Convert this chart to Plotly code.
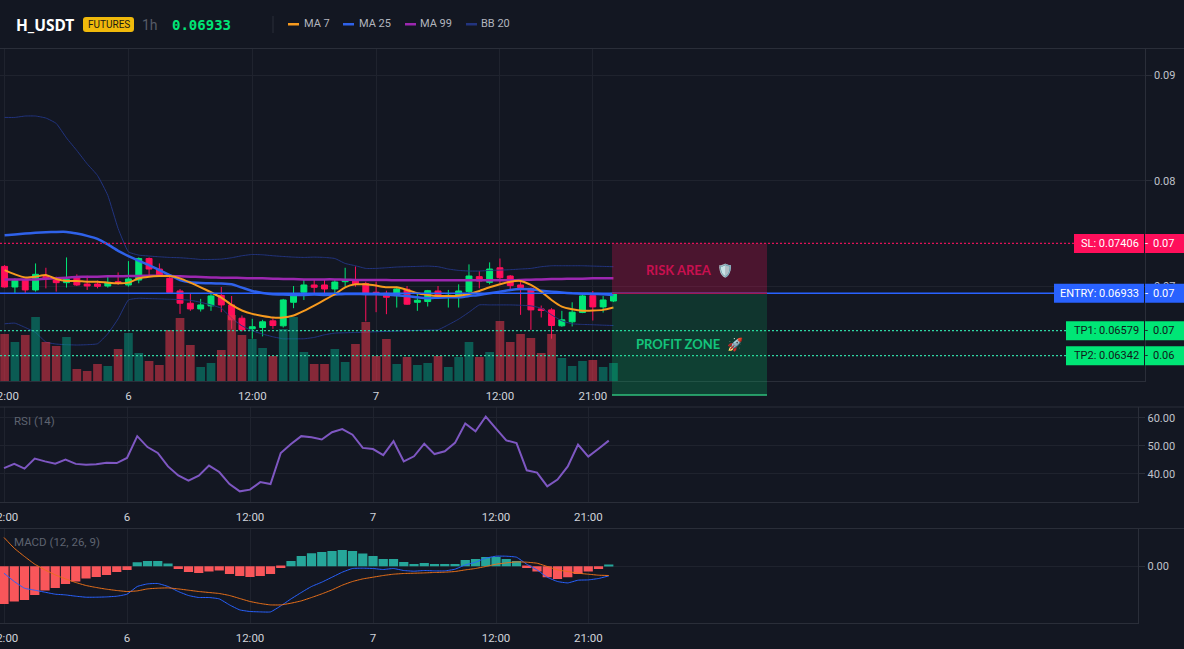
import pandas as pd
import plotly.graph_objects as go

W, H = 1184, 649
BG = "#131722"
GRID = "#1f232e"
AXIS = "#2a2e39"
TXT = "#b2b5be"
UP = "#00e676"
DOWN = "#ff0f5b"
BLUE = "#2962ff"

ENTRY = 0.06933
SL = 0.07406
TP1 = 0.06579
TP2 = 0.06342
ZONE_LOW = 0.05970

opens = [.07188,.06993,.07059,.06965,.07091,.07059,.07034,.07084,.07021,.07021,.07002,.07043,.07012,.07059,.07263,.07163,.07075,.06955,.06839,.06785,.06814,.06914,.06823,.06697,.06597,.06609,.06672,.06625,.06848,.06943,.07012,.07012,.06974,.07043,.07059,.07025,.06943,.06933,.06911,.06971,.06848,.06855,.06955,.06896,.06896,.06949,.07091,.07037,.07175,.07097,.07012,.06980,.06785,.06776,.06625,.06663,.06751,.06911,.06804,.06860]
highs = [.07201,.07075,.07075,.07216,.07175,.07091,.07273,.07113,.07100,.07053,.07091,.07131,.07238,.07273,.07273,.07216,.07106,.06974,.06927,.06880,.06933,.06993,.06908,.06723,.06691,.06682,.06697,.06880,.07002,.07059,.07059,.07059,.07059,.07175,.07188,.07043,.07043,.06958,.06996,.07002,.06933,.06965,.07002,.06965,.07018,.07207,.07144,.07226,.07263,.07106,.07059,.06987,.06817,.06792,.06767,.06848,.06927,.06955,.06908,.06940]
lows = [.06987,.06933,.06933,.06949,.06980,.06949,.06987,.07002,.06965,.06980,.06987,.07012,.06996,.07028,.07106,.07091,.06927,.06738,.06767,.06760,.06767,.06754,.06597,.06572,.06503,.06525,.06597,.06609,.06792,.06870,.06933,.06933,.06933,.06996,.06996,.06666,.06754,.06735,.06798,.06823,.06767,.06808,.06886,.06798,.06798,.06933,.06980,.07018,.07028,.06974,.06729,.06587,.06704,.06503,.06616,.06619,.06745,.06675,.06751,.06850]
closes = [.06993,.07053,.06965,.07113,.07081,.07034,.07065,.07012,.07002,.06999,.07037,.07034,.07069,.07263,.07163,.07100,.06940,.06839,.06785,.06823,.06908,.06823,.06682,.06587,.06616,.06663,.06628,.06870,.06924,.07012,.06990,.06974,.07040,.07059,.07018,.06924,.06930,.06896,.06974,.06830,.06867,.06958,.06896,.06914,.06955,.07097,.07050,.07163,.07081,.07006,.06987,.06776,.06770,.06628,.06682,.06754,.06908,.06804,.06870,.06933]
volumes = [47,39,46,64,39,35,44,12,10,17,15,32,48,28,20,16,51,63,36,14,18,31,66,46,42,33,25,52,64,29,17,17,32,19,37,59,25,42,17,24,16,18,25,14,24,39,24,29,60,39,47,43,28,47,23,15,20,21,14,18]

ma7 = [.07153,.07113,.07084,.07091,.07106,.07069,.07050,.07050,.07043,.07043,.07034,.07028,.07034,.07075,.07091,.07097,.07097,.07075,.07034,.06990,.06943,.06892,.06823,.06770,.06738,.06719,.06704,.06704,.06723,.06767,.06817,.06870,.06924,.06990,.07018,.07018,.07006,.06990,.06990,.06965,.06933,.06918,.06908,.06908,.06911,.06927,.06955,.06990,.07018,.07043,.07050,.07012,.06949,.06870,.06807,.06782,.06767,.06770,.06776,.06798]
ma25 = [.07484,.07490,.07499,.07506,.07512,.07515,.07515,.07499,.07477,.07449,.07396,.07336,.07286,.07241,.07201,.07153,.07106,.07059,.07037,.07031,.07028,.07025,.07018,.06987,.06955,.06936,.06924,.06921,.06918,.06918,.06921,.06918,.06921,.06927,.06927,.06924,.06924,.06921,.06914,.06908,.06895,.06886,.06892,.06895,.06895,.06908,.06918,.06933,.06949,.06965,.06974,.06971,.06958,.06949,.06940,.06933,.06930,.06927,.06924,.06918]
ma99 = [.07065,.07065,.07065,.07065,.07072,.07075,.07081,.07087,.07091,.07091,.07094,.07094,.07097,.07097,.07100,.07100,.07097,.07094,.07091,.07087,.07084,.07081,.07081,.07078,.07075,.07075,.07072,.07069,.07069,.07065,.07065,.07065,.07065,.07062,.07059,.07059,.07059,.07059,.07056,.07056,.07056,.07056,.07056,.07056,.07056,.07056,.07056,.07056,.07056,.07056,.07059,.07062,.07065,.07069,.07069,.07072,.07072,.07075,.07075,.07075]
bb_upper = [.08600,.08600,.08613,.08613,.08594,.08543,.08405,.08286,.08160,.08050,.07861,.07547,.07326,.07295,.07286,.07279,.07273,.07270,.07263,.07254,.07254,.07257,.07270,.07289,.07301,.07298,.07289,.07282,.07276,.07273,.07276,.07273,.07263,.07216,.07194,.07169,.07169,.07175,.07182,.07185,.07188,.07191,.07185,.07163,.07150,.07144,.07144,.07150,.07153,.07157,.07163,.07169,.07185,.07194,.07194,.07194,.07194,.07191,.07188,.07185]
bb_lower = [.06644,.06650,.06609,.06562,.06471,.06452,.06446,.06443,.06446,.06455,.06550,.06691,.06870,.06886,.06883,.06880,.06877,.06874,.06867,.06848,.06823,.06792,.06697,.06625,.06578,.06547,.06521,.06502,.06502,.06502,.06515,.06540,.06556,.06559,.06562,.06565,.06569,.06572,.06575,.06578,.06581,.06584,.06587,.06635,.06688,.06754,.06823,.06823,.06823,.06823,.06820,.06814,.06792,.06729,.06672,.06644,.06638,.06635,.06631,.06628]

rsi = [42.1,43.6,41.9,45.5,44.5,43.7,45.1,43.6,43.3,43.5,44.0,43.9,45.7,53.5,49.6,47.5,42.7,39.5,37.6,39.4,43.0,40.7,36.4,33.8,34.4,37.1,36.4,47.5,50.7,53.5,53.1,52.3,54.9,56.0,54.0,49.3,48.9,46.7,51.7,44.5,46.3,50.8,47.1,48.1,51.1,58.0,55.2,60.5,56.2,52.0,51.0,41.3,40.5,35.6,38.0,42.7,50.5,46.2,49.0,51.9]

# MACD series, in units of 1e-5
macd_hist = [-37.7,-35.3,-33.7,-28.7,-24.3,-21.7,-17.7,-15.3,-12.3,-10.7,-8.7,-5.7,-3.7,4.0,5.3,5.3,2.7,-2.7,-5.7,-6.7,-5.3,-4.3,-7.7,-9.7,-10.7,-9.7,-7.7,-1.7,5.3,10.3,13,14.3,15.3,16.3,15.3,12.7,10.3,7.3,7.3,4.3,2.3,3.3,2.3,2.3,2.3,6.3,7.3,9.3,9.3,7.3,5.3,-1.7,-5.3,-11,-12.7,-11,-7.7,-5.3,-2.7,1.3]
macd_line = [-7,-15.3,-22,-24,-26,-28,-28.7,-30,-31,-31,-30.7,-30,-28,-20.3,-17.7,-17.3,-20.3,-25.3,-29.3,-31.3,-31.3,-32.7,-38.7,-43.7,-45.3,-45.7,-45.7,-39.7,-32.7,-26.3,-20.3,-16,-11,-6,-2.3,-2,-2.3,-3.3,-2.3,-4.3,-5,-4.3,-4.7,-4.7,-3,1.3,4,8,10,10,9,2,-3.7,-11,-15.3,-16.7,-14,-13.7,-12.3,-9.7]
macd_signal = [28.7,18,9.7,2,-3.7,-8.7,-12.7,-16.3,-19.3,-21.3,-23,-24.3,-25.3,-24.7,-22.7,-22,-21.7,-22.7,-24,-25.3,-26.3,-27.3,-29.3,-32.3,-35.3,-37.3,-38.7,-38.7,-37,-34.7,-31.3,-27.7,-23.7,-19,-15.3,-12.7,-11,-9.3,-8,-7.3,-7,-6.7,-6.3,-6,-5.3,-3.7,-2.3,-0.3,2,3.3,4.3,4,3,-0.3,-3.7,-5.3,-7,-8,-9,-9.3]

time_ticks = ["2025-06-05 12:00", "2025-06-06 00:00", "2025-06-06 12:00", "2025-06-07 00:00", "2025-06-07 12:00", "2025-06-07 21:00"]
time_labels = ["12:00", "6", "12:00", "7", "12:00", "21:00"]

times = pd.date_range("2025-06-05 12:00", periods=len(closes), freq="h")
HOUR = pd.Timedelta(hours=1)


def fx(px):
    return px / W


def fy(px):
    return 1 - px / H


def time_range(left_slot, right_slot):
    return [times[0] + left_slot * HOUR, times[0] + right_slot * HOUR]


PRICE_RANGE = [0.06102, 0.09253]


def price_paper(price):
    top, bottom = fy(48.5), fy(381)
    return bottom + (price - PRICE_RANGE[0]) / (PRICE_RANGE[1] - PRICE_RANGE[0]) * (top - bottom)


fig = go.Figure()

fig.add_trace(go.Candlestick(
    x=times, open=opens, high=highs, low=lows, close=closes,
    increasing=dict(line=dict(color=UP, width=1), fillcolor=UP),
    decreasing=dict(line=dict(color=DOWN, width=1), fillcolor=DOWN),
    whiskerwidth=0, xaxis="x", yaxis="y", showlegend=False,
))
for values, color, width in [
    (bb_upper, "#22347f", 1), (bb_lower, "#22347f", 1),
    (ma99, "#9c27b0", 2.5), (ma25, "#2f62ea", 2.5), (ma7, "#f79a1e", 2),
]:
    fig.add_trace(go.Scatter(x=times, y=values, mode="lines", line=dict(color=color, width=width, shape="spline", smoothing=0.4),
                             xaxis="x", yaxis="y", showlegend=False))

vol_colors = ["rgba(5,150,125,0.54)" if c >= o else "rgba(230,55,75,0.55)" for o, c in zip(opens, closes)]
fig.add_trace(go.Bar(x=times, y=[v * 1000 for v in volumes], marker=dict(color=vol_colors, line=dict(width=0)),
                     width=3600000 * 0.84, xaxis="x", yaxis="y2", showlegend=False))

fig.add_trace(go.Scatter(x=times, y=rsi, mode="lines", line=dict(color="#7e57c2", width=2),
                         xaxis="x2", yaxis="y3", showlegend=False))

hist_colors = ["#26a69a" if v >= 0 else "#f9565a" for v in macd_hist]
fig.add_trace(go.Bar(x=times, y=macd_hist, marker=dict(color=hist_colors, line=dict(width=0)),
                     width=3600000 * 0.9, xaxis="x3", yaxis="y4", showlegend=False))
fig.add_trace(go.Scatter(x=times, y=macd_line, mode="lines", line=dict(color="#2962ff", width=1, shape="spline", smoothing=0.4),
                         xaxis="x3", yaxis="y4", showlegend=False))
fig.add_trace(go.Scatter(x=times, y=macd_signal, mode="lines", line=dict(color="#e8701a", width=1, shape="spline", smoothing=0.4),
                         xaxis="x3", yaxis="y4", showlegend=False))

font = "Roboto"
time_axis = dict(
    type="date", tickmode="array", tickvals=time_ticks, ticktext=time_labels,
    tickfont=dict(family=font, size=11.5, color="#d0d3da"), ticks="outside", ticklen=4, tickcolor="rgba(0,0,0,0)",
    ticklabeloverflow="allow",
    showgrid=True, gridcolor=GRID, gridwidth=1, showline=True, linecolor=AXIS, linewidth=1,
    zeroline=False, rangeslider=dict(visible=False), fixedrange=True,
)
price_axis = dict(
    side="right", showgrid=True, gridcolor=GRID, gridwidth=1, showline=True, linecolor=AXIS, linewidth=1,
    ticks="outside", ticklen=6, tickcolor=AXIS, zeroline=False, fixedrange=True,
    tickfont=dict(family=font, size=11, color="#c0c3cb"), tickmode="array",
)

fig.update_layout(
    width=W, height=H, margin=dict(l=0, r=0, t=0, b=0, autoexpand=False), paper_bgcolor=BG, plot_bgcolor=BG,
    showlegend=False, barmode="overlay", boxgap=0.18, hovermode=False,
    xaxis=dict(time_axis, domain=[0, fx(1144.7)], range=time_range(-0.446, 110.48), anchor="y"),
    xaxis2=dict(time_axis, domain=[0, fx(1138.3)], range=time_range(-0.39, 110.66), anchor="y3"),
    xaxis3=dict(time_axis, domain=[0, fx(1138.3)], range=time_range(-0.39, 110.66), anchor="y4"),
    yaxis=dict(price_axis, domain=[fy(381), fy(48.5)], range=PRICE_RANGE, anchor="x",
               tickvals=[0.07, 0.08, 0.09], ticktext=["0.07", "0.08", "0.09"]),
    yaxis2=dict(domain=[fy(381), fy(48.5)], range=[0, 332500], overlaying="y", anchor="x", visible=False, fixedrange=True),
    yaxis3=dict(price_axis, domain=[fy(502), fy(407)], range=[30, 63.9], anchor="x2",
                tickvals=[40, 50, 60], ticktext=["40.00", "50.00", "60.00"]),
    yaxis4=dict(price_axis, domain=[fy(623), fy(528.5)], range=[-56.8, 37.7], anchor="x3",
                tickvals=[0], ticktext=["0.00"]),
)

shapes = []
notes = []


def rect(x0, y0, x1, y1, fill, layer="above"):
    shapes.append(dict(type="rect", xref="paper", yref="paper", x0=fx(x0), x1=fx(x1), y0=fy(y0), y1=fy(y1),
                       fillcolor=fill, line=dict(width=0), layer=layer))


def note(x, y, text, color, size=12, anchor="left", family=font, bold=False):
    shown = f"<b>{text}</b>" if bold else text
    notes.append(dict(xref="paper", yref="paper", x=fx(x), y=fy(y), text=shown, showarrow=False, xanchor=anchor,
                      yanchor="middle", font=dict(family=family, size=size, color=color), borderpad=0, borderwidth=0))


def level(price, color, dash, x1, width=1.4):
    y = price_paper(price)
    shapes.append(dict(type="line", xref="paper", yref="paper", x0=0, x1=fx(x1), y0=y, y1=y,
                       line=dict(color=color, width=width, dash=dash), layer="above"))


def zone(price_low, price_high, fill):
    shapes.append(dict(type="rect", xref="paper", yref="paper", x0=fx(612), x1=fx(767),
                       y0=price_paper(price_low), y1=price_paper(price_high),
                       fillcolor=fill, line=dict(width=0), layer="above"))


# Pane separators that run across the whole width
for y in (48.5, 407, 528.5):
    shapes.append(dict(type="line", xref="paper", yref="paper", x0=0, x1=1, y0=fy(y), y1=fy(y),
                       line=dict(color=AXIS, width=1), layer="above"))

# Trade levels
level(SL, "#e01258", "2px,2px", 1074)
level(TP1, "#2fd8a4", "2px,2px", 1066)
level(TP2, "#2fd8a4", "2px,2px", 1066)

# Risk and profit zones; the profit zone deepens past each target
zone(ENTRY, SL, "rgba(255,15,91,0.24)")
zone(TP1, ENTRY, "rgba(0,230,118,0.15)")
zone(TP2, TP1, "rgba(0,230,118,0.17)")
zone(ZONE_LOW, TP2, "rgba(0,230,118,0.20)")
low_edge = price_paper(ZONE_LOW)
shapes.append(dict(type="line", xref="paper", yref="paper", x0=fx(612), x1=fx(767), y0=low_edge, y1=low_edge,
                   line=dict(color="#2fbf7c", width=1.5), layer="above"))
level(ENTRY, BLUE, "solid", 1054, width=1.5)
entry_edge = price_paper(ENTRY)
shapes.append(dict(type="line", xref="paper", yref="paper", x0=fx(612), x1=fx(767), y0=entry_edge, y1=entry_edge,
                   line=dict(color="#a01a55", width=1.5), layer="above"))
note(646, 269.5, "RISK AREA  🛡️", "#c9104f", 13, family="Lato", bold=True)
note(636, 344.5, "PROFIT ZONE  🚀", "#14c47c", 13, family="Lato", bold=True)

# Price tags on the right edge
for price, fill, ink, x0, label in [
    (SL, DOWN, "#ffffff", 1074, "SL"),
    (ENTRY, BLUE, "#ffffff", 1054, "ENTRY"),
    (TP1, UP, "#10181a", 1066, "TP1"),
    (TP2, UP, "#10181a", 1066, "TP2"),
]:
    y = H * (1 - price_paper(price))
    half = 9.5
    rect(x0, y - half, 1144, y + half, fill)
    rect(1145, y - half, 1184, y + half, fill)
    note(1139, y, f"{label}: {price:.5f}", ink, 11, anchor="right")
    note(1144.5, y, "-", ink, 11)
    note(1153, y, f"{price:.2f}", ink, 11)

# Pane captions
note(14, 421, "RSI (14)", "#5e6370", 11.5)
note(14, 542, "MACD (12, 26, 9)", "#5e6370", 11.5)

# Header bar
note(16, 24.5, "H_USDT", "#ffffff", 15.5, family="Noto Sans", bold=True)
r = 3
x0, x1, y0, y1 = 83, 134, 17, 32
pts = [(x0 + r, y0), (x1 - r, y0), (x1, y0), (x1, y0 + r), (x1, y1 - r), (x1, y1), (x1 - r, y1), (x0 + r, y1), (x0, y1), (x0, y1 - r), (x0, y0 + r), (x0, y0), (x0 + r, y0)]
p = [f"{fx(a):.5f},{fy(b):.5f}" for a, b in pts]
path = f"M{p[0]} L{p[1]} Q{p[2]} {p[3]} L{p[4]} Q{p[5]} {p[6]} L{p[7]} Q{p[8]} {p[9]} L{p[10]} Q{p[11]} {p[12]} Z"
shapes.append(dict(type="path", xref="paper", yref="paper", path=path, fillcolor="#f0b90b", line=dict(width=0), layer="above"))
note(108.5, 24.5, "FUTURES", "#1a1a12", 10, anchor="center")
note(142, 24.5, "1h", "#565b67", 14)
note(172, 24.5, "0.06933", "#00e676", 14, family="DejaVu Sans Mono", bold=True)
shapes.append(dict(type="line", xref="paper", yref="paper", x0=fx(273), x1=fx(273), y0=fy(16), y1=fy(33),
                   line=dict(color=AXIS, width=1), layer="above"))

for sx0, sx1, tx, color, label in [
    (288, 299, 303.5, "#f79a1e", "MA 7"),
    (343, 354, 358.5, "#2f62ea", "MA 25"),
    (405, 416, 420, "#9c27b0", "MA 99"),
    (466, 477, 481, "#22347f", "BB 20"),
]:
    rect(sx0, 23, sx1, 25.5, color)
    note(tx, 24, label, TXT, 11)

fig.update_layout(shapes=shapes, annotations=notes)
fig.write_html("out.html", config={"displayModeBar": False})
